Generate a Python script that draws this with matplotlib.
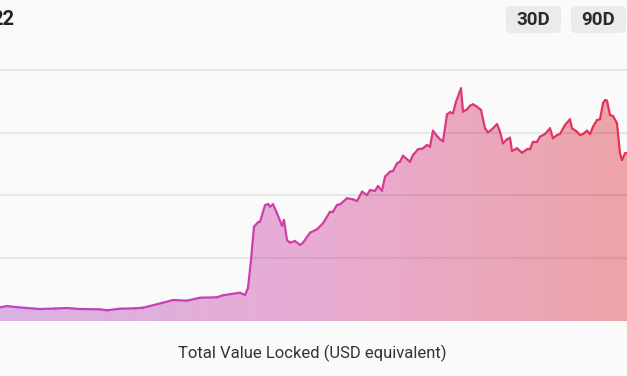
import numpy as np
import matplotlib
matplotlib.use("Agg")
import matplotlib.pyplot as plt
from matplotlib.collections import LineCollection
from matplotlib.colors import LinearSegmentedColormap
from matplotlib.patches import Polygon, FancyBboxPatch

plt.rcParams["font.family"] = ["Roboto", "DejaVu Sans"]

# Daten (Tagesindex, TVL in Mrd. USD)
days = [0, 7, 15, 27, 40, 55, 67, 80, 100, 107, 120, 135, 143, 150, 163, 173, 187,
        200, 217, 223, 240, 245, 248, 251, 254, 258, 260, 265, 268, 270, 273, 277,
        282, 284, 287, 290, 295, 300, 303, 310, 317, 323, 330, 333, 337, 340, 347,
        353, 357, 362, 367, 370, 375, 378, 382, 385, 390, 393, 397, 400, 403, 407,
        410, 413, 418, 423, 427, 430, 433, 437, 440, 443, 447, 450, 453, 456, 461,
        463, 467, 470, 473, 477, 481, 485, 488, 492, 497, 500, 503, 507, 510, 512,
        517, 522, 527, 530, 533, 537, 540, 545, 550, 553, 557, 560, 565, 570, 572,
        577, 580, 583, 587, 590, 593, 597, 600, 603, 605, 607, 610, 613, 617, 620,
        622, 625, 627]
tvl = [0.218, 0.239, 0.223, 0.207, 0.191, 0.199, 0.207, 0.191, 0.186, 0.171, 0.196,
       0.202, 0.212, 0.239, 0.292, 0.335, 0.324, 0.371, 0.378, 0.410, 0.451, 0.414,
       0.526, 0.972, 1.503, 1.573, 1.582, 1.844, 1.865, 1.822, 1.860, 1.716, 1.519,
       1.610, 1.291, 1.248, 1.275, 1.211, 1.248, 1.407, 1.461, 1.557, 1.742, 1.742,
       1.849, 1.860, 1.955, 1.939, 1.912, 2.061, 2.008, 2.088, 2.072, 2.151, 2.077,
       2.300, 2.379, 2.390, 2.513, 2.539, 2.634, 2.577, 2.539, 2.645, 2.736, 2.752,
       2.805, 2.778, 3.033, 2.948, 2.896, 2.864, 3.294, 3.326, 3.310, 3.495, 3.708,
       3.335, 3.374, 3.431, 3.453, 3.415, 3.363, 3.071, 3.007, 3.055, 3.139, 3.017,
       2.832, 2.896, 2.921, 2.709, 2.752, 2.682, 2.736, 2.736, 2.857, 2.857, 2.937,
       2.980, 3.071, 2.912, 2.964, 2.980, 3.124, 3.214, 3.071, 3.017, 2.964, 2.980,
       3.033, 2.980, 3.096, 3.203, 3.214, 3.469, 3.522, 3.511, 3.283, 3.267, 3.151,
       2.672, 2.566, 2.672, 2.677]
grid_values = [1, 2, 3, 4]
title_text = "Total Value Locked (USD equivalent)"
buttons = ["30D", "90D"]

BG = "#fafafa"
W, H = 627, 376

fig = plt.figure(figsize=(W / 100, H / 100), dpi=100, facecolor=BG)

# Chartbereich: Grundlinie bei y=321 px, 62.75 px pro Einheit
ymax = (321 - 55) / 62.75
ax = fig.add_axes([0, (H - 321) / H, 1, (321 - 55) / H])
ax.set_facecolor(BG)
ax.set_xlim(0, 627)
ax.set_ylim(0, ymax)
for s in ax.spines.values():
    s.set_visible(False)
ax.set_xticks([])
ax.set_yticks([])

x = np.array(days, dtype=float)
y = np.array(tvl)

# Farbverlauf-Flaeche
fill_cmap = LinearSegmentedColormap.from_list("fill", ["#dab2e3", "#e8acd4", "#eda4a8"])
grad = np.linspace(0, 1, 256).reshape(1, -1)
im = ax.imshow(grad, extent=[0, 627, 0, ymax], aspect="auto", cmap=fill_cmap,
               origin="lower", zorder=1)
verts = list(zip(x, y)) + [(x[-1], 0), (x[0], 0)]
clip = Polygon(verts, closed=True, facecolor="none", edgecolor="none")
ax.add_patch(clip)
im.set_clip_path(clip)

# Gitternetz
for g in grid_values:
    ax.axhline(g, color="black", alpha=0.07, lw=1.5, zorder=2)

# Linie mit Farbverlauf
line_cmap = LinearSegmentedColormap.from_list("line", ["#bd42c8", "#d23ea8", "#e6324c"])
pts = np.column_stack([x, y]).reshape(-1, 1, 2)
segs = np.concatenate([pts[:-1], pts[1:]], axis=1)
lc = LineCollection(segs, cmap=line_cmap, norm=plt.Normalize(0, 627),
                    linewidths=1.6, capstyle="round", joinstyle="round", zorder=3)
lc.set_array((x[:-1] + x[1:]) / 2)
ax.add_collection(lc)

# Overlay in Pixelkoordinaten fuer Texte und Buttons
ov = fig.add_axes([0, 0, 1, 1], facecolor="none")
ov.set_xlim(0, W)
ov.set_ylim(H, 0)
ov.axis("off")

ov.text(14, 25, "22", ha="right", va="baseline", fontsize=14.5, fontweight="bold",
        color="#222222")

for i, label in enumerate(buttons):
    x0 = 506 + i * 65
    ov.add_patch(FancyBboxPatch((x0, 6), 55, 27, boxstyle="round,pad=0,rounding_size=5",
                                facecolor="#ebebeb", edgecolor="none"))
    ov.text(x0 + 27.5, 20, label, ha="center", va="center", fontsize=13.5,
            fontweight="bold", color="#2b2b2b")

ov.text(312, 353, title_text, ha="center", va="center", fontsize=12, color="#333333")

fig.savefig("out.png", dpi=100, facecolor=BG)
